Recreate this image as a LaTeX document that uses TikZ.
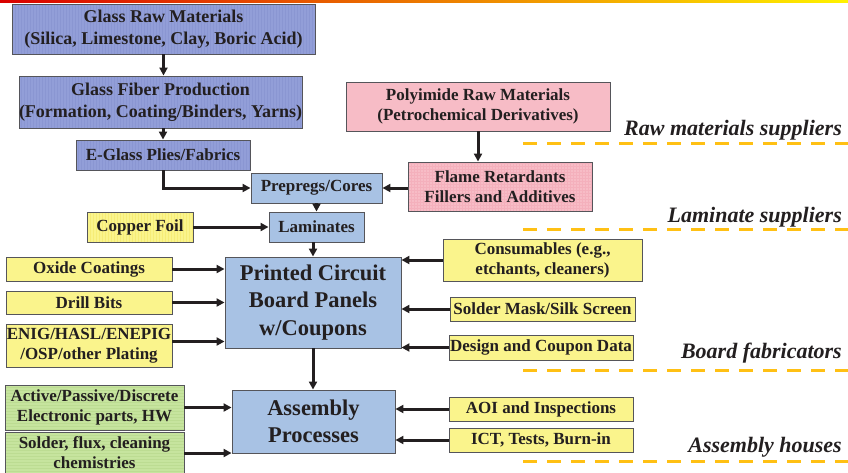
\documentclass[tikz,border=0pt]{standalone}
\usepackage{fontspec}
\setmainfont{Liberation Serif}
\usepackage{tikz}
\usetikzlibrary{arrows.meta, patterns}
\definecolor{ink}{RGB}{35, 31, 32}
\definecolor{edge}{RGB}{85, 85, 90}
\definecolor{glass}{RGB}{146, 158, 216}
\definecolor{glassline}{RGB}{138, 150, 210}
\definecolor{board}{RGB}{168, 194, 228}
\definecolor{rawpink}{RGB}{247, 188, 198}
\definecolor{gridpink}{RGB}{244, 176, 188}
\definecolor{supply}{RGB}{250, 244, 140}
\definecolor{supplyline}{RGB}{246, 236, 118}
\definecolor{parts}{RGB}{198, 228, 158}
\definecolor{partsline}{RGB}{188, 220, 146}
\definecolor{tier}{RGB}{255, 192, 20}

\begin{document}
\begin{tikzpicture}[x=1pt, y=-1pt,
  box/.style={draw=edge, line width=0.9, text=ink, align=center, inner sep=0,
    font=\bfseries\fontsize{17}{20}\selectfont},
  glassbox/.style={box, fill=glass, postaction={pattern=vertical lines, pattern color=glassline, draw=edge}},
  boardbox/.style={box, fill=board},
  pinkbox/.style={box, fill=rawpink},
  yellowbox/.style={box, fill=supply},
  greenbox/.style={box, fill=parts, postaction={pattern=horizontal lines, pattern color=partsline, draw=edge}},
  feed/.style={draw=ink, line width=3, -{Triangle[length=8pt, width=8pt]}},
  tierline/.style={draw=tier, line width=3, dash pattern=on 14pt off 10pt},
  tierlabel/.style={text=ink, anchor=base east, inner sep=0,
    font=\bfseries\itshape\fontsize{22}{26}\selectfont}]
  \useasboundingbox (0, 0) rectangle (848, 472);
  \shade[left color=red!85!black, middle color=orange, right color=yellow!90!orange]
    (0, 0) rectangle (848, 2.5);

  % raw materials
  \node[glassbox, minimum width=303, minimum height=50, font=\bfseries\fontsize{18}{22}\selectfont]
    (graw) at (163.5, 29) {Glass Raw Materials\\(Silica, Limestone, Clay, Boric Acid)};
  \node[glassbox, minimum width=283, minimum height=52, font=\bfseries\fontsize{18}{22}\selectfont]
    (gfiber) at (160.5, 102) {Glass Fiber Production\\(Formation, Coating/Binders, Yarns)};
  \node[glassbox, minimum width=174, minimum height=30] (eglass) at (163, 155) {E-Glass Plies/Fabrics};
  \node[pinkbox, minimum width=264, minimum height=49] (polyraw) at (478, 106.5)
    {Polyimide Raw Materials\\(Petrochemical Derivatives)};
  \node[pinkbox, minimum width=184, minimum height=49,
    postaction={pattern=grid, pattern color=gridpink, draw=edge}] (flame) at (500, 186.5)
    {Flame Retardants\\Fillers and Additives};

  % laminates
  \node[boardbox, minimum width=131, minimum height=30] (prepreg) at (316.5, 188) {Prepregs/Cores};
  \node[yellowbox, minimum width=106, minimum height=30,
    postaction={pattern=vertical lines, pattern color=supplyline, draw=edge}] (copper) at (140, 227) {Copper Foil};
  \node[boardbox, minimum width=95, minimum height=30] (lamin) at (316.5, 227) {Laminates};

  % board fabrication
  \node[boardbox, minimum width=176, minimum height=91, font=\bfseries\fontsize{22.5}{27.5}\selectfont]
    (pcb) at (313, 302.5) {Printed Circuit\\Board Panels\\w/Coupons};
  \node[yellowbox, minimum width=166, minimum height=24] (oxide) at (89, 269) {Oxide Coatings};
  \node[yellowbox, minimum width=166, minimum height=23] (drill) at (89, 302.5) {Drill Bits};
  \node[yellowbox, minimum width=166, minimum height=43] (enig) at (89, 345.5)
    {ENIG/HASL/ENEPIG\\/OSP/other Plating};
  \node[yellowbox, minimum width=199, minimum height=42] (consum) at (542.5, 260)
    {Consumables (e.g.,\\etchants, cleaners)};
  \node[yellowbox, minimum width=185, minimum height=24] (mask) at (542.5, 309) {Solder Mask/Silk Screen};
  \node[yellowbox, minimum width=184, minimum height=25] (design) at (541, 347.5) {Design and Coupon Data};

  % assembly
  \node[boardbox, minimum width=163, minimum height=63, font=\bfseries\fontsize{22.5}{27}\selectfont]
    (assy) at (313.5, 421.5) {Assembly\\Processes};
  \node[greenbox, minimum width=179, minimum height=45] (active) at (94.5, 407.5)
    {Active/Passive/Discrete\\Electronic parts, HW};
  \node[greenbox, minimum width=179, minimum height=42] (solder) at (94.5, 453)
    {Solder, flux, cleaning\\chemistries};
  \node[yellowbox, minimum width=184, minimum height=24] (aoi) at (541, 409) {AOI and Inspections};
  \node[yellowbox, minimum width=184, minimum height=24] (ict) at (541, 440) {ICT, Tests, Burn-in};

  % flows
  \draw[feed] (graw.south) -- (graw.south |- gfiber.north);
  \draw[feed] (gfiber.south -| eglass) -- (eglass.north);
  \draw[feed] (eglass.south) |- (prepreg.west);
  \draw[feed] (polyraw.south) -- (polyraw.south |- flame.north);
  \draw[feed] (flame.west |- prepreg) -- (prepreg.east);
  \draw[feed] (prepreg.south) -- (lamin.north);
  \draw[feed] (copper.east) -- (lamin.west);
  \draw[feed] (lamin.south -| pcb) -- (pcb.north);
  \foreach \src in {oxide, drill}
    \draw[feed] (\src.east) -- (\src.east -| pcb.west);
  \draw[feed] ([yshift=4pt]enig.east) -- ([yshift=4pt]enig.east -| pcb.west);
  \foreach \src in {consum, mask, design}
    \draw[feed] (\src.west) -- (\src.west -| pcb.east);
  \draw[feed] (pcb.south -| pcb) -- (pcb.south |- assy.north);
  \foreach \src in {active, solder}
    \draw[feed] (\src.east |- \src) -- (\src.east -| assy.west);
  \foreach \src in {aoi, ict}
    \draw[feed] (\src.west) -- (\src.west -| assy.east);

  % tiers
  \foreach \i/\ly/\base/\txt in {1/143/135/Raw materials suppliers, 2/229/222/Laminate suppliers,
      3/370/358/Board fabricators, 4/461/452/Assembly houses} {
    \draw[tierline] (523, \ly) -- (848, \ly);
    \node[tierlabel] (tier\i) at (842, \base) {\txt};
  }
\end{tikzpicture}
\end{document}
